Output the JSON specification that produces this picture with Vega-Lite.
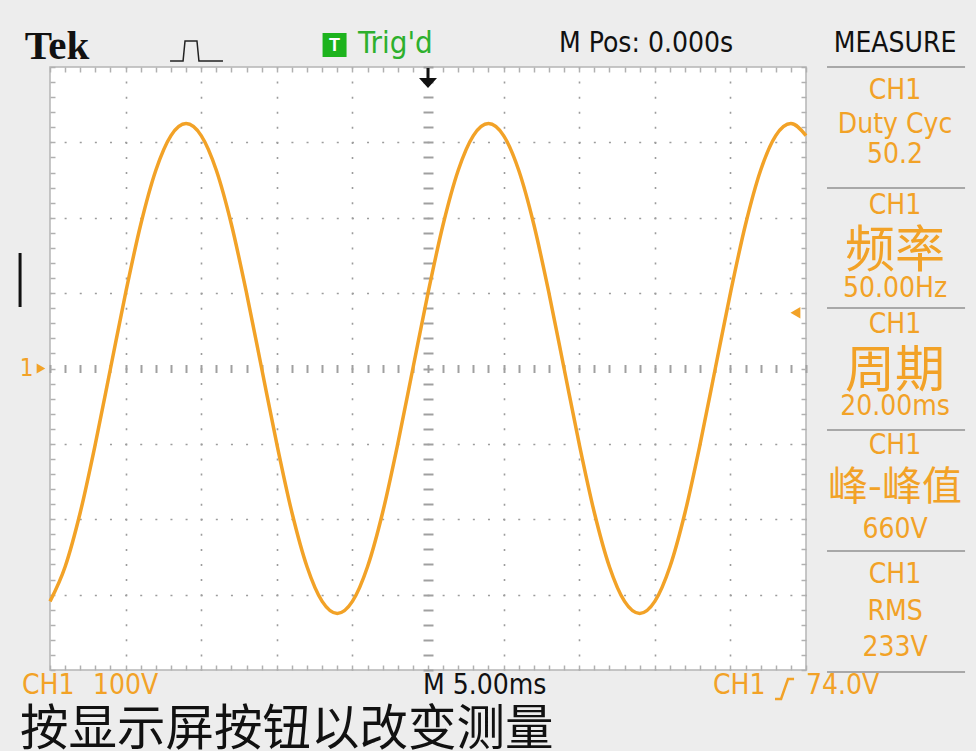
{
  "$schema": "https://vega.github.io/schema/vega-lite/v6.json",
  "width": 756,
  "height": 603,
  "autosize": {"type": "none"},
  "padding": {"left": 50, "top": 67, "right": 170, "bottom": 81},
  "background": "#EDEDED",
  "config": {"view": {"fill": "#FFFFFF", "stroke": "#B5B5B5", "strokeWidth": 1.5}},
  "datasets": {
    "trace": [
      {"t": -25, "v": -309}, {"t": -24, "v": -263}, {"t": -23, "v": -191}, {"t": -22, "v": -100}, {"t": -21, "v": 0},
      {"t": -20, "v": 100}, {"t": -19, "v": 191}, {"t": -18, "v": 263}, {"t": -17, "v": 309}, {"t": -16, "v": 325},
      {"t": -15, "v": 309}, {"t": -14, "v": 263}, {"t": -13, "v": 191}, {"t": -12, "v": 100}, {"t": -11, "v": 0},
      {"t": -10, "v": -100}, {"t": -9, "v": -191}, {"t": -8, "v": -263}, {"t": -7, "v": -309}, {"t": -6, "v": -325},
      {"t": -5, "v": -309}, {"t": -4, "v": -263}, {"t": -3, "v": -191}, {"t": -2, "v": -100}, {"t": -1, "v": 0},
      {"t": 0, "v": 100}, {"t": 1, "v": 191}, {"t": 2, "v": 263}, {"t": 3, "v": 309}, {"t": 4, "v": 325},
      {"t": 5, "v": 309}, {"t": 6, "v": 263}, {"t": 7, "v": 191}, {"t": 8, "v": 100}, {"t": 9, "v": 0},
      {"t": 10, "v": -100}, {"t": 11, "v": -191}, {"t": 12, "v": -263}, {"t": 13, "v": -309}, {"t": 14, "v": -325},
      {"t": 15, "v": -309}, {"t": 16, "v": -263}, {"t": 17, "v": -191}, {"t": 18, "v": -100}, {"t": 19, "v": 0},
      {"t": 20, "v": 100}, {"t": 21, "v": 191}, {"t": 22, "v": 263}, {"t": 23, "v": 309}, {"t": 24, "v": 325},
      {"t": 25, "v": 309}
    ],
    "panel": [
      {"t": 30.89, "v": 368.2, "label": "CH1"},
      {"t": 30.89, "v": 323.7, "label": "Duty Cyc"},
      {"t": 30.89, "v": 283.3, "label": "50.2"},
      {"t": 30.89, "v": 215.6, "label": "CH1"},
      {"t": 30.89, "v": 105.5, "label": "50.00Hz"},
      {"t": 30.89, "v": 57.7, "label": "CH1"},
      {"t": 30.89, "v": -51.1, "label": "20.00ms"},
      {"t": 30.89, "v": -102.8, "label": "CH1"},
      {"t": 30.89, "v": -214.3, "label": "660V"},
      {"t": 30.89, "v": -274.0, "label": "CH1"},
      {"t": 30.89, "v": -323.1, "label": "RMS"},
      {"t": 30.89, "v": -370.8, "label": "233V"}
    ],
    "cjkBig": [
      {"t": 30.89, "v": 154.6, "label": "频率"},
      {"t": 30.89, "v": -4.6, "label": "周期"}
    ],
    "cjkPeak": [
      {"t": 30.89, "v": -158.6, "label": "峰-峰值"}
    ],
    "header": [
      {"t": 14.42, "v": 430, "label": "M Pos: 0.000s"},
      {"t": 30.89, "v": 430, "label": "MEASURE"}
    ],
    "trig": [{"t": -4.63, "v": 430, "label": "Trig'd"}],
    "trigBox": [{"t": -6.18, "v": 429.2, "label": "T"}],
    "tek": [{"t": -24.54, "v": 426.5, "label": "Tek"}],
    "pulseIcon": [
      {"t": -17.06, "v": 408.0}, {"t": -16.20, "v": 408.0}, {"t": -16.07, "v": 434.5},
      {"t": -15.28, "v": 434.5}, {"t": -15.15, "v": 408.0}, {"t": -13.56, "v": 408.0}
    ],
    "bottomOrange": [
      {"t": -26.85, "v": -421, "label": "CH1"},
      {"t": -22.16, "v": -421, "label": "100V"},
      {"t": 18.85, "v": -421, "label": "CH1"},
      {"t": 25.0, "v": -421, "label": "74.0V"}
    ],
    "bottomBlack": [{"t": -0.33, "v": -421, "label": "M 5.00ms"}],
    "bottomCjk": [{"t": -26.98, "v": -479, "label": "按显示屏按钮以改变测量"}],
    "slopeIcon": [
      {"t": 22.95, "v": -438.5}, {"t": 23.35, "v": -438.5}, {"t": 23.81, "v": -412}, {"t": 24.21, "v": -412}
    ],
    "separators": [
      {"t": 26.39, "t2": 35.52, "v": 400.0},
      {"t": 26.39, "t2": 35.52, "v": 239.5},
      {"t": 26.39, "t2": 35.52, "v": 80.3},
      {"t": 26.39, "t2": 35.52, "v": -81.6},
      {"t": 26.39, "t2": 35.52, "v": -242.1},
      {"t": 26.39, "t2": 35.52, "v": -402.6}
    ],
    "leftBar": [{"t": -26.98, "v": 153.2, "v2": 81.6}],
    "chanLabel": [{"t": -26.55, "v": 0, "label": "1"}],
    "chanArrow": [{"t": -25.6, "v": 0}],
    "levelArrow": [{"t": 24.3, "v": 74}],
    "trigArrow": [{"t": 0, "v": 385.4}]
  },
  "encoding": {
    "x": {"field": "t", "type": "quantitative", "scale": {"domain": [-25, 25], "nice": false, "zero": false}, "axis": null},
    "y": {"field": "v", "type": "quantitative", "scale": {"domain": [-400, 400], "nice": false, "zero": false}, "axis": null}
  },
  "layer": [
    {
      "data": {"name": "trace"},
      "mark": {"type": "line", "color": "#F2A227", "strokeWidth": 3.5, "interpolate": "monotone"},
      "encoding": {
        "x": {"field": "t", "type": "quantitative", "scale": {"domain": [-25, 25], "nice": false, "zero": false},
          "axis": {"orient": "bottom", "values": [-25,-24,-23,-22,-21,-20,-19,-18,-17,-16,-15,-14,-13,-12,-11,-10,-9,-8,-7,-6,-5,-4,-3,-2,-1,0,1,2,3,4,5,6,7,8,9,10,11,12,13,14,15,16,17,18,19,20,21,22,23,24,25],
            "labels": false, "domain": false, "title": null, "ticks": true, "tickSize": -5, "tickColor": "#B0B0B0", "tickWidth": 1.5,
            "grid": true, "gridColor": "#9C9C9C", "gridWidth": 1.6, "gridDash": [2, 13.075], "gridDashOffset": 1,
            "gridOpacity": {"condition": {"test": "datum.value % 5 === 0 && abs(datum.value) < 25 && datum.value !== 0", "value": 1}, "value": 0}}},
        "y": {"field": "v", "type": "quantitative", "scale": {"domain": [-400, 400], "nice": false, "zero": false},
          "axis": {"orient": "left", "values": [-400,-380,-360,-340,-320,-300,-280,-260,-240,-220,-200,-180,-160,-140,-120,-100,-80,-60,-40,-20,0,20,40,60,80,100,120,140,160,180,200,220,240,260,280,300,320,340,360,380,400],
            "labels": false, "domain": false, "title": null, "ticks": true, "tickSize": -5, "tickColor": "#B0B0B0", "tickWidth": 1.5,
            "grid": true, "gridColor": "#9C9C9C", "gridWidth": 1.6, "gridDash": [2, 13.12], "gridDashOffset": 1,
            "gridOpacity": {"condition": {"test": "datum.value % 100 === 0 && abs(datum.value) < 400 && datum.value !== 0", "value": 1}, "value": 0}}}
      }
    },
    {
      "data": {"name": "panel"},
      "mark": {"type": "text", "color": "#F2A227", "font": "Liberation Sans Narrow, Arial Narrow, DejaVu Sans Condensed, sans-serif", "fontSize": 28, "align": "center", "baseline": "middle"},
      "encoding": {
        "x": {"field": "t", "type": "quantitative", "scale": {"domain": [-25, 25], "nice": false, "zero": false},
          "axis": {"orient": "top", "values": [-25,-24,-23,-22,-21,-20,-19,-18,-17,-16,-15,-14,-13,-12,-11,-10,-9,-8,-7,-6,-5,-4,-3,-2,-1,0,1,2,3,4,5,6,7,8,9,10,11,12,13,14,15,16,17,18,19,20,21,22,23,24,25],
            "labels": false, "domain": false, "title": null, "ticks": true, "tickSize": -5, "tickColor": "#B0B0B0", "tickWidth": 1.5, "grid": false}},
        "y": {"field": "v", "type": "quantitative", "scale": {"domain": [-400, 400], "nice": false, "zero": false},
          "axis": {"orient": "right", "values": [-400,-380,-360,-340,-320,-300,-280,-260,-240,-220,-200,-180,-160,-140,-120,-100,-80,-60,-40,-20,0,20,40,60,80,100,120,140,160,180,200,220,240,260,280,300,320,340,360,380,400],
            "labels": false, "domain": false, "title": null, "ticks": true, "tickSize": -5, "tickColor": "#B0B0B0", "tickWidth": 1.5, "grid": false}},
        "text": {"field": "label"}
      }
    },
    {
      "data": {"name": "cjkBig"},
      "mark": {"type": "text", "color": "#F2A227", "font": "Noto Sans CJK SC", "fontSize": 50, "align": "center", "baseline": "middle"},
      "encoding": {
        "x": {"field": "t", "type": "quantitative", "scale": {"domain": [-25, 25], "nice": false, "zero": false},
          "axis": {"orient": "bottom", "offset": -297.5, "values": [-25,-24,-23,-22,-21,-20,-19,-18,-17,-16,-15,-14,-13,-12,-11,-10,-9,-8,-7,-6,-5,-4,-3,-2,-1,0,1,2,3,4,5,6,7,8,9,10,11,12,13,14,15,16,17,18,19,20,21,22,23,24,25],
            "labels": false, "domain": false, "title": null, "ticks": true, "tickSize": -8, "tickColor": "#A0A0A0", "tickWidth": 2, "grid": false}},
        "y": {"field": "v", "type": "quantitative", "scale": {"domain": [-400, 400], "nice": false, "zero": false},
          "axis": {"orient": "left", "offset": -373, "values": [-400,-380,-360,-340,-320,-300,-280,-260,-240,-220,-200,-180,-160,-140,-120,-100,-80,-60,-40,-20,0,20,40,60,80,100,120,140,160,180,200,220,240,260,280,300,320,340,360,380,400],
            "labels": false, "domain": false, "title": null, "ticks": true, "tickSize": -10, "tickColor": "#A0A0A0", "tickWidth": 2, "grid": false}},
        "text": {"field": "label"}
      }
    },
    {
      "data": {"name": "cjkPeak"},
      "mark": {"type": "text", "color": "#F2A227", "font": "Noto Sans CJK SC", "fontSize": 40, "align": "center", "baseline": "middle"},
      "encoding": {"text": {"field": "label"}}
    },
    {
      "data": {"name": "header"},
      "mark": {"type": "text", "color": "#111111", "font": "Liberation Sans Narrow, Arial Narrow, DejaVu Sans Condensed, sans-serif", "fontSize": 28, "align": "center", "baseline": "middle"},
      "encoding": {"text": {"field": "label"}}
    },
    {
      "data": {"name": "trig"},
      "mark": {"type": "text", "color": "#2DB02D", "font": "Liberation Sans Narrow, Arial Narrow, DejaVu Sans Condensed, sans-serif", "fontSize": 31, "align": "left", "baseline": "middle"},
      "encoding": {"text": {"field": "label"}}
    },
    {
      "data": {"name": "trigBox"},
      "mark": {"type": "point", "shape": "square", "filled": true, "opacity": 1, "color": "#1DB31D", "size": 576}
    },
    {
      "data": {"name": "trigBox"},
      "mark": {"type": "text", "color": "#FFFFFF", "font": "Liberation Sans", "fontWeight": "bold", "fontSize": 18, "align": "center", "baseline": "middle", "dy": 1},
      "encoding": {"text": {"field": "label"}}
    },
    {
      "data": {"name": "tek"},
      "mark": {"type": "text", "color": "#111111", "font": "Liberation Serif", "fontWeight": "bold", "fontSize": 41, "align": "center", "baseline": "middle"},
      "encoding": {"text": {"field": "label"}}
    },
    {
      "data": {"name": "pulseIcon"},
      "mark": {"type": "line", "color": "#222222", "strokeWidth": 1.5}
    },
    {
      "data": {"name": "bottomOrange"},
      "mark": {"type": "text", "color": "#F2A227", "font": "Liberation Sans Narrow, Arial Narrow, DejaVu Sans Condensed, sans-serif", "fontSize": 28, "align": "left", "baseline": "middle"},
      "encoding": {"text": {"field": "label"}}
    },
    {
      "data": {"name": "bottomBlack"},
      "mark": {"type": "text", "color": "#111111", "font": "Liberation Sans Narrow, Arial Narrow, DejaVu Sans Condensed, sans-serif", "fontSize": 28, "align": "left", "baseline": "middle"},
      "encoding": {"text": {"field": "label"}}
    },
    {
      "data": {"name": "bottomCjk"},
      "mark": {"type": "text", "color": "#111111", "font": "Noto Sans CJK SC", "fontSize": 48.5, "align": "left", "baseline": "middle"},
      "encoding": {"text": {"field": "label"}}
    },
    {
      "data": {"name": "slopeIcon"},
      "mark": {"type": "line", "color": "#F2A227", "strokeWidth": 2.5}
    },
    {
      "data": {"name": "separators"},
      "mark": {"type": "rule", "color": "#A8A8A8", "strokeWidth": 2},
      "encoding": {"x2": {"field": "t2"}}
    },
    {
      "data": {"name": "leftBar"},
      "mark": {"type": "rule", "color": "#111111", "strokeWidth": 3},
      "encoding": {"y2": {"field": "v2"}}
    },
    {
      "data": {"name": "chanLabel"},
      "mark": {"type": "text", "color": "#F2A227", "font": "Liberation Sans Narrow, Arial Narrow, DejaVu Sans Condensed, sans-serif", "fontSize": 24, "align": "center", "baseline": "middle"},
      "encoding": {"text": {"field": "label"}}
    },
    {
      "data": {"name": "chanArrow"},
      "mark": {"type": "point", "shape": "triangle-right", "filled": true, "opacity": 1, "color": "#F2A227", "size": 100}
    },
    {
      "data": {"name": "levelArrow"},
      "mark": {"type": "point", "shape": "triangle-left", "filled": true, "opacity": 1, "color": "#F2A227", "size": 130}
    },
    {
      "data": {"name": "trigArrow"},
      "mark": {"type": "point", "shape": "M-0.15,-1H0.15V0H0.9L0,1L-0.9,0H-0.15Z", "filled": true, "opacity": 1, "color": "#111111", "size": 400}
    }
  ],
  "resolve": {"axis": {"x": "independent", "y": "independent"}}
}
